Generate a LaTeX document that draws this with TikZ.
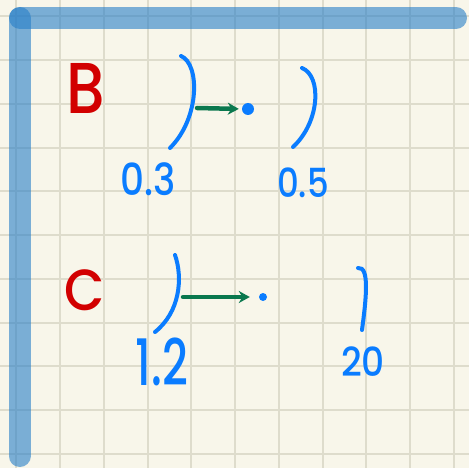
\documentclass[tikz,border=0pt]{standalone}
\usepackage{fontspec}
\setmainfont{Poppins}
\newfontfamily\handfont{Poppins Medium}
\usetikzlibrary{arrows.meta}
\definecolor{paper}{RGB}{248,246,234}
\definecolor{gridc}{RGB}{222,220,204}
\definecolor{axisc}{RGB}{38,126,200}
\definecolor{inkred}{RGB}{210,0,0}
\definecolor{inkblue}{RGB}{10,124,255}
\definecolor{inkgreen}{RGB}{10,120,78}
\tikzset{
  gridline/.style={gridc, line width=2pt},
  axisline/.style={axisc, opacity=0.6, line width=22pt, line cap=round},
  bracketline/.style={inkblue, line width=4pt, line cap=round},
  mapsto/.style={inkgreen, line width=4.5pt, line cap=round, -{Stealth[length=11pt,width=12pt]}},
  redlabel/.style={inkred, inner sep=0pt},
  numlabel/.style={inkblue, inner sep=0pt},
  dotnode/.style={circle, fill=inkblue, inner sep=0pt}
}
\begin{document}
\begin{tikzpicture}[x=1pt,y=-1pt]
\useasboundingbox (0,0) rectangle (469,468);
\fill[paper] (0,0) rectangle (469,468);
\foreach \i in {0,...,10} {
  \draw[gridline] ({16.3+43.75*\i},0) -- ({16.3+43.75*\i},468);
  \draw[gridline] (0,{16.3+43.75*\i}) -- (469,{16.3+43.75*\i});
}
\draw[axisline] (20,18) -- (456,18);
\draw[axisline] (19.5,18) -- (19.5,456);

% row B
\node[redlabel, font=\handfont\fontsize{72}{72}\selectfont, xscale=0.85] (B) at (86,88) {B};
\draw[bracketline] (181,56) .. controls (200,64) and (200,118) .. (170,148);
\coordinate (aB) at (197,108);
\node[dotnode, minimum size=12pt] (dotB) at (248,109) {};
\draw[mapsto, shorten >=3pt] (aB) -- (dotB.west);
\draw[bracketline] (302,68) .. controls (322,76) and (320,122) .. (293,147);
\node[numlabel, font=\handfont\fontsize{44}{44}\selectfont, xscale=0.85] (n03) at (148,179) {0.3};
\node[numlabel, font=\handfont\fontsize{40}{40}\selectfont, xscale=0.85] (n05) at (303,183) {0.5};

% row C
\node[redlabel, font=\handfont\fontsize{58}{58}\selectfont, xscale=0.9] (C) at (85,290) {C};
\draw[bracketline] (175,255) .. controls (183,278) and (180,312) .. (155,332);
\coordinate (aC) at (183,297);
\node[dotnode, minimum size=8pt] (dotC) at (263,297) {};
\draw[mapsto, shorten >=9pt] (aC) -- (dotC.west);
\draw[bracketline] (358,268) .. controls (370,266) and (366,300) .. (362,330);
\node[numlabel, font=\handfont\fontsize{64}{64}\selectfont, xscale=0.7] (n12) at (162,362) {1.2};
\node[numlabel, font=\handfont\fontsize{40}{40}\selectfont, xscale=0.9] (n20) at (363,362) {20};
\end{tikzpicture}
\end{document}
